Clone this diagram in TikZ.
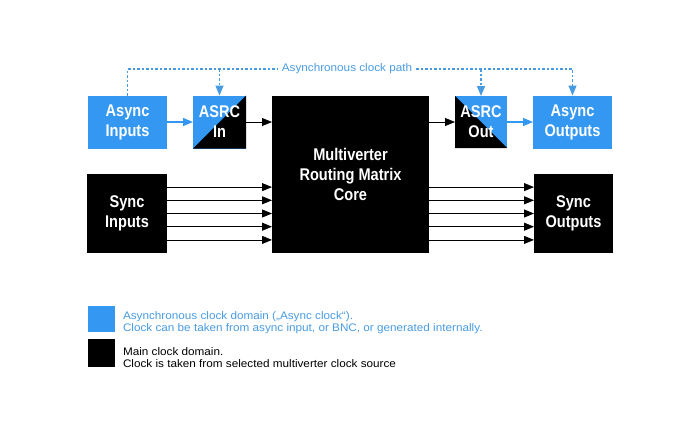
\documentclass[tikz,border=0pt]{standalone}
\usepackage{fontspec}
\newfontfamily\boxfont[FakeStretch=0.86]{Liberation Sans}
\newfontfamily\legendfont[FakeStretch=1.07]{Liberation Sans}
\usetikzlibrary{arrows.meta}
\definecolor{asyncblue}{RGB}{52,152,242}
\definecolor{pathblue}{RGB}{72,155,225}

\begin{document}
\begin{tikzpicture}[x=1bp,y=-1bp,
		every node/.style = {inner sep=0pt, outer sep=0pt},
		block/.style = {minimum width=79bp, minimum height=53bp, align=center, text=white,
			font=\boxfont\bfseries\fontsize{17}{20}\selectfont},
		asyncblock/.style = {block, fill=asyncblue},
		syncblock/.style = {block, fill=black, minimum height=79bp},
		asrcin/.style = {block, minimum width=53bp, fill=asyncblue,
			path picture={\fill[black] (path picture bounding box.south west) -- (path picture bounding box.south east) -- (path picture bounding box.north east) -- cycle;}},
		asrcout/.style = {block, minimum width=52bp, minimum height=52bp, fill=asyncblue,
			path picture={\fill[black] (path picture bounding box.north west) -- (path picture bounding box.south west) -- (path picture bounding box.south east) -- cycle;}},
		tip/.style = {-{Triangle[length=10bp,width=8bp]}},
		syncline/.style = {tip, line width=0.8bp},
		asyncline/.style = {tip, asyncblue, line width=1.3bp},
		clockpath/.style = {pathblue, line width=1.3bp, dash pattern=on 2.5bp off 2bp},
		legendtext/.style = {align=left, anchor=west, font=\legendfont\fontsize{11}{12}\selectfont}
		]
		\useasboundingbox (0,0) rectangle (700,432);
		\node[asyncblock] (ain) at (127.5,122) {Async\\Inputs};
		\node[asrcin] (asrcin) at (219.5,122) {ASRC\\In};
		\node[syncblock, minimum width=157bp, minimum height=157bp] (core) at (350.5,174.5) {Multiverter\\Routing Matrix\\Core};
		\node[asrcout] (asrcout) at (481,122) {ASRC\\Out};
		\node[asyncblock] (aout) at (572.5,122) {Async\\Outputs};
		\node[syncblock, minimum width=80bp] (sin) at (127,213.5) {Sync\\Inputs};
		\node[syncblock] (sout) at (573.5,213.5) {Sync\\Outputs};
		\node[font=\legendfont\fontsize{11}{12}\selectfont, text=pathblue, inner xsep=4bp] (pathlabel) at (347,69) {Asynchronous clock path};

		\draw[asyncline] (ain) -- (asrcin);
		\draw[syncline] (asrcin) -- (asrcin -| core.west);
		\draw[syncline] (asrcout -| core.east) -- (asrcout);
		\draw[asyncline] (asrcout) -- (aout);
		\foreach \dy in {-26.4,-13.2,0,13.2,26.4} {
			\draw[syncline] ([yshift=\dy bp]sin.east) -- ([yshift=\dy bp]sin.east -| core.west);
			\draw[syncline] ([yshift=\dy bp]sout.west -| core.east) -- ([yshift=\dy bp]sout.west);
		}

		\draw[clockpath] (ain.north) |- (pathlabel.west);
		\draw[clockpath, tip] (pathlabel.east) -| (aout.north);
		\draw[clockpath, tip] (asrcin.north |- pathlabel) -- (asrcin.north);
		\draw[clockpath, tip] (asrcout.north |- pathlabel) -- (asrcout.north);

		\node[fill=asyncblue, minimum width=27bp, minimum height=26bp] (keyasync) at (101.5,319) {};
		\node[fill=black, minimum width=27bp, minimum height=28bp] (keysync) at (101.5,353) {};
		\node[legendtext, text=pathblue] (keyasynctext) at (123,323) {Asynchronous clock domain („Async clock“).\\Clock can be taken from async input, or BNC, or generated internally.};
		\node[legendtext] (keysynctext) at (123,357.5) {Main clock domain.\\Clock is taken from selected multiverter clock source};
	\end{tikzpicture}
\end{document}
